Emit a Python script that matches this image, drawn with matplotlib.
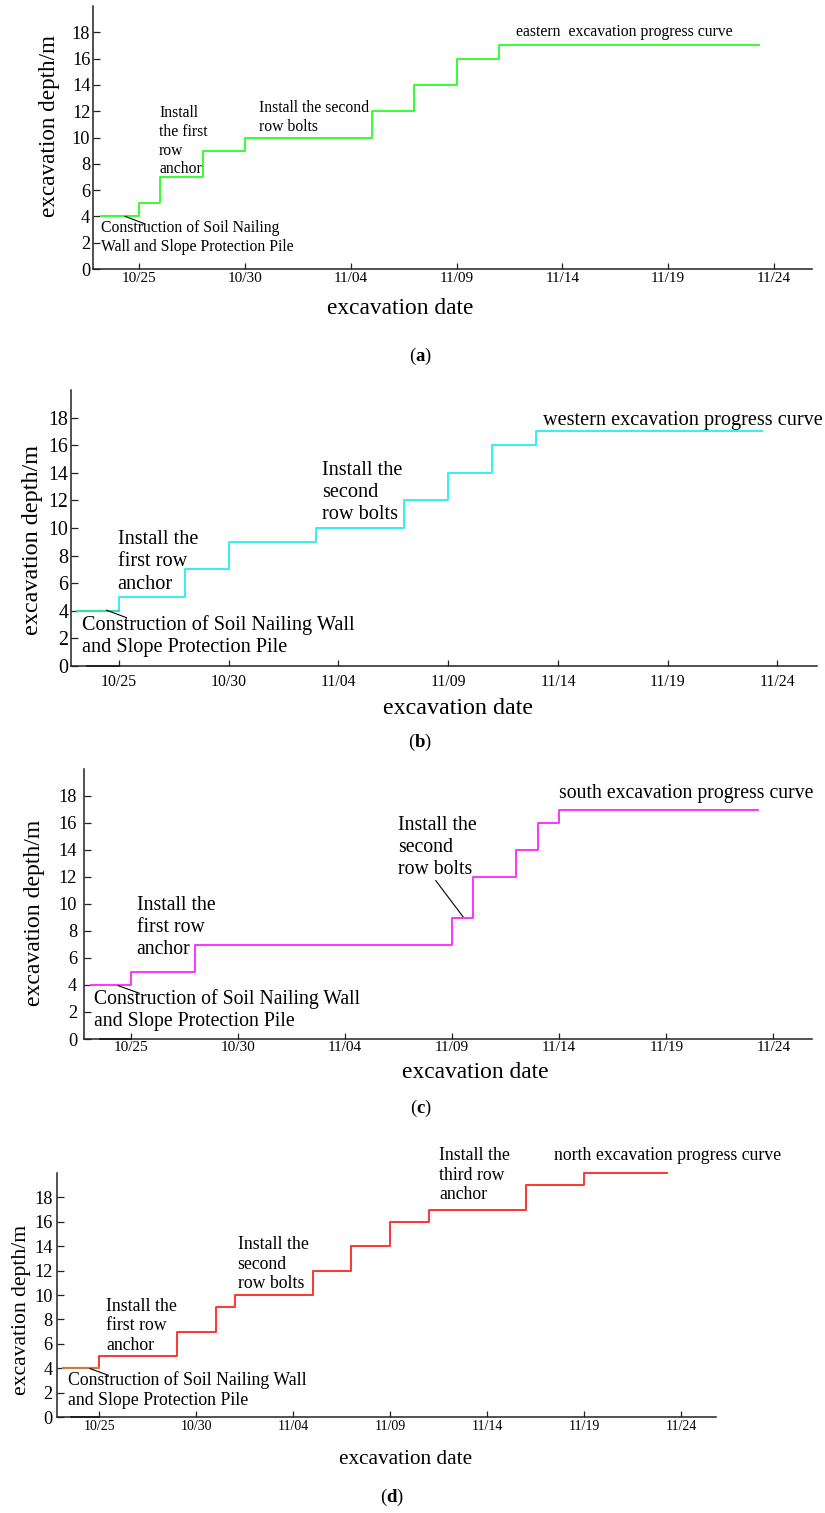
import matplotlib.pyplot as plt

plt.rcParams['font.family'] = ['Liberation Serif', 'DejaVu Serif']
plt.rcParams['mathtext.fontset'] = 'custom'
plt.rcParams['mathtext.rm'] = 'Liberation Serif'
plt.rcParams['mathtext.bf'] = 'Liberation Serif:bold'

W, H = 825, 1513

# x = days counted from 10/25
tick_days = [0, 5, 10, 15, 20, 25, 30]
tick_labels = ['10/25', '10/30', '11/04', '11/09', '11/14', '11/19', '11/24']
depth_ticks = [0, 2, 4, 6, 8, 10, 12, 14, 16, 18]

# step curves (value holds until the next day in the list)
east_days = [-1.8, 0, 1, 3, 5, 11, 13, 15, 17, 29.3]
east_depth = [4, 5, 7, 9, 10, 12, 14, 16, 17, 17]

west_days = [-1.9, 0, 3, 5, 9, 13, 15, 17, 19, 29.3]
west_depth = [4, 5, 7, 9, 10, 12, 14, 16, 17, 17]

south_days = [-1.85, 0, 3, 15, 16, 18, 19, 20, 29.3]
south_depth = [4, 5, 7, 9, 12, 14, 16, 17, 17]

north_days = [-1.85, 0, 4, 6, 7, 11, 13, 15, 17, 22, 25, 29.25]
north_depth = [4, 5, 7, 9, 10, 12, 14, 16, 17, 19, 20, 20]

# dark stretch on the zero line before 10/25 (panels b, c, d)
zero_days = [-1.45, 0]
zero_depth = [0, 0]


def box(l, t, r, b):
    return [l / W, 1 - b / H, (r - l) / W, (b - t) / H]


fig = plt.figure(figsize=(W / 100, H / 100), dpi=100)


def make_panel(pbox, ytfs, xtfs, labfs, xlabfs, ylab_px, xlab_px, xpad, ypad):
    l, t, r, b = pbox
    ax = fig.add_axes(box(l, t, r, b))
    ax.set_xlim(-2.18, 31.8)
    ax.set_ylim(0, 20)
    for s in ['top', 'right']:
        ax.spines[s].set_visible(False)
    for s in ['left', 'bottom']:
        ax.spines[s].set_color('#222222')
        ax.spines[s].set_linewidth(1.1)
    ax.set_xticks(tick_days)
    ax.set_xticklabels(tick_labels)
    ax.set_yticks(depth_ticks)
    ax.tick_params(axis='x', direction='in', length=4.5, width=0.9,
                   labelsize=xtfs, pad=xpad, color='#222222')
    ax.tick_params(axis='y', direction='in', length=5, width=0.9,
                   labelsize=ytfs, pad=ypad, color='#222222')
    ax.set_ylabel('excavation depth/m', fontsize=labfs, va='center', ha='center')
    ax.yaxis.set_label_coords((ylab_px[0] - l) / (r - l), (b - ylab_px[1]) / (b - t))
    ax.set_xlabel('excavation date', fontsize=xlabfs, va='center', ha='center')
    ax.xaxis.set_label_coords((xlab_px[0] - l) / (r - l), (b - xlab_px[1]) / (b - t))
    return ax


def caption(letter, x, y):
    fig.text(x / W, 1 - y / H, r'($\mathbf{' + letter + r'}$)', fontsize=13.5,
             ha='center', va='center')


LS = 1.22

# ---------------- (a) eastern
ax = make_panel((93, 6, 812, 269), 13.2, 11, 16.7, 16.8, (49, 126), (400, 308), 2.5, 2)
ax.step(east_days, east_depth, where='post', color='#33ff33', lw=1.4)
fs = 11.3
ax.text(-1.81, 2.4, 'Construction of Soil Nailing\nWall and Slope Protection Pile',
        fontsize=fs, va='center', ha='left', linespacing=LS)
ax.plot([-0.66, 0.28], [4, 3.43], color='k', lw=0.8)
ax.text(0.94, 9.7, 'Install\nthe first\nrow\nanchor', fontsize=fs, va='center',
        ha='left', linespacing=LS)
ax.text(5.66, 11.5, 'Install the second\nrow bolts', fontsize=fs, va='center',
        ha='left', linespacing=LS)
ax.text(17.8, 18.05, 'eastern  excavation progress curve', fontsize=fs,
        va='center', ha='left')
caption('a', 420, 356)

# ---------------- (b) western
ax = make_panel((71, 390, 817, 666), 14.4, 11.3, 17.4, 17.3, (33, 540), (458, 709), 6, 2)
ax.step(west_days, west_depth, where='post', color='#33f0f0', lw=1.4)
ax.plot(west_days[:2], west_depth[:1] * 2, color='#33dca8', lw=1.6)
ax.plot(zero_days, zero_depth, color='#111111', lw=1.3, clip_on=False)
fs = 14.6
ax.text(-1.68, 2.17, 'Construction of Soil Nailing Wall\nand Slope Protection Pile',
        fontsize=fs, va='center', ha='left', linespacing=LS)
ax.plot([-0.56, 0.35], [4.04, 3.5], color='k', lw=0.8)
ax.text(-0.06, 7.54, 'Install the\nfirst row\nanchor', fontsize=fs, va='center',
        ha='left', linespacing=LS)
ax.text(9.26, 12.6, 'Install the\nsecond\nrow bolts', fontsize=fs, va='center',
        ha='left', linespacing=LS)
ax.text(19.3, 17.8, 'western excavation progress curve', fontsize=fs,
        va='center', ha='left')
caption('b', 420, 742)

# ---------------- (c) south
ax = make_panel((84, 769, 812, 1039), 13.2, 11, 17.1, 16.9, (35, 913), (475, 1072), 1.5, 5)
ax.step(south_days, south_depth, where='post', color='#ff33ff', lw=1.4)
ax.plot(zero_days, zero_depth, color='#111111', lw=1.3, clip_on=False)
fs = 14.2
ax.text(-1.71, 2.12, 'Construction of Soil Nailing Wall\nand Slope Protection Pile',
        fontsize=fs, va='center', ha='left', linespacing=LS)
ax.plot([-0.58, 0.4], [3.95, 3.39], color='k', lw=0.8)
ax.text(0.28, 8.24, 'Install the\nfirst row\nanchor', fontsize=fs, va='center',
        ha='left', linespacing=LS)
ax.text(12.47, 14.17, 'Install the\nsecond\nrow bolts', fontsize=fs, va='center',
        ha='left', linespacing=LS)
ax.plot([14.24, 15.51], [11.73, 9.06], color='k', lw=0.8)
ax.text(19.99, 18.2, 'south excavation progress curve', fontsize=fs,
        va='center', ha='left')
caption('c', 421, 1108)

# ---------------- (d) north
ax = make_panel((57, 1173, 716, 1417), 13.2, 10, 15.6, 15.3, (22, 1310), (406, 1459), 2.5, 3)
ax.step(north_days, north_depth, where='post', color='#ff3333', lw=1.4, clip_on=False)
ax.plot(north_days[:2], north_depth[:1] * 2, color='#c8803c', lw=1.6)
ax.plot(zero_days, zero_depth, color='#111111', lw=1.3, clip_on=False)
fs = 12.8
ax.text(-1.61, 2.19, 'Construction of Soil Nailing Wall\nand Slope Protection Pile',
        fontsize=fs, va='center', ha='left', linespacing=LS)
ax.plot([-0.48, 0.47], [3.97, 3.42], color='k', lw=0.8)
ax.text(0.35, 7.47, 'Install the\nfirst row\nanchor', fontsize=fs, va='center',
        ha='left', linespacing=LS)
ax.text(7.13, 12.53, 'Install the\nsecond\nrow bolts', fontsize=fs, va='center',
        ha='left', linespacing=LS)
ax.text(17.53, 19.83, 'Install the\nthird row\nanchor', fontsize=fs, va='center',
        ha='left', linespacing=LS)
ax.text(23.46, 21.41, 'north excavation progress curve', fontsize=fs,
        va='center', ha='left')
caption('d', 392, 1497)

fig.savefig('out.png', dpi=100)
